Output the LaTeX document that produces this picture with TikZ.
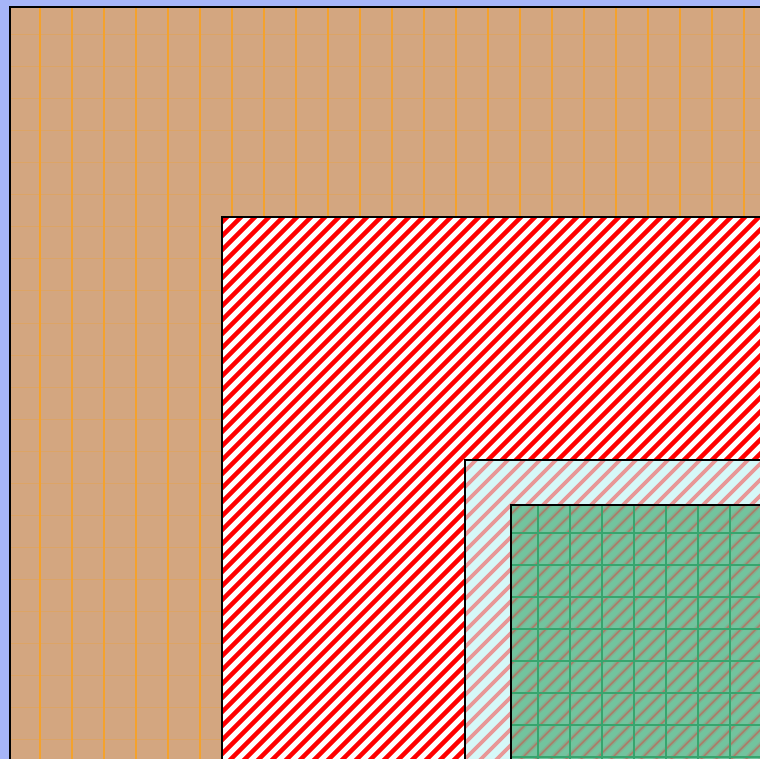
\documentclass[tikz,border=0pt]{standalone}
\usetikzlibrary{calc}
\definecolor{bgblue}{RGB}{166,181,248}
\definecolor{tanfill}{RGB}{211,166,128}
\definecolor{orangeline}{RGB}{244,162,44}
\definecolor{stripered}{RGB}{255,0,0}
\definecolor{cyanfill}{RGB}{214,248,248}
\definecolor{pinkstripe}{RGB}{240,110,110}
\definecolor{greenfill}{RGB}{115,195,158}
\definecolor{greenline}{RGB}{55,165,110}
\definecolor{greenband}{RGB}{150,150,125}
\definecolor{greenstripe}{RGB}{210,80,70}
\tikzset{
  boxborder/.style={draw=black, line width=2pt},
}
\begin{document}
\begin{tikzpicture}[x=1pt,y=-1pt]
\useasboundingbox (0,0) rectangle (760,759);
\fill[bgblue] (0,0) rectangle (760,759);
\clip (0,0) rectangle (760,759);
% outer tan region
\fill[tanfill] (10,7) rectangle (800,800);
\begin{scope}
  \clip (10,7) rectangle (800,800);
  \foreach \x in {40,72,...,780} \draw[orangeline, line width=1.3pt] (\x,0) -- (\x,800);
  \foreach \y in {35,67,...,780} \draw[orangeline, opacity=0.3, line width=1pt] (0,\y) -- (800,\y);
\end{scope}
\draw[boxborder] (10,7) rectangle (800,800);
% red striped region
\fill[white] (222,217) rectangle (800,800);
\begin{scope}
  \clip (222,217) rectangle (800,800);
  \foreach \c in {430,444,...,1600} \draw[stripered, line width=4.4pt] (\c,0) -- ({\c-1600},1600);
\end{scope}
\draw[boxborder] (222,217) rectangle (800,800);
% cyan region
\fill[cyanfill] (465,460) rectangle (800,800);
\begin{scope}
  \clip (465,460) rectangle (800,800);
  \foreach \c in {920,936,...,1600} \draw[pinkstripe, opacity=0.7, line width=3.8pt] (\c,0) -- ({\c-1600},1600);
\end{scope}
\draw[boxborder] (465,460) rectangle (800,800);
% green region
\fill[greenfill] (511,505) rectangle (800,800);
\begin{scope}
  \clip (511,505) rectangle (800,800);
  \foreach \c in {1010,1025,...,1600} {
    \draw[greenband, opacity=0.45, line width=4.5pt] (\c,0) -- ({\c-1600},1600);
    \draw[greenstripe, opacity=0.55, line width=1.4pt] (\c,0) -- ({\c-1600},1600);
  }
  \foreach \x in {538,570,...,780} \draw[greenline, line width=1.3pt] (\x,0) -- (\x,800);
  \foreach \y in {533,565,...,780} \draw[greenline, line width=1.3pt] (0,\y) -- (800,\y);
\end{scope}
\draw[boxborder] (511,505) rectangle (800,800);
\end{tikzpicture}
\end{document}
